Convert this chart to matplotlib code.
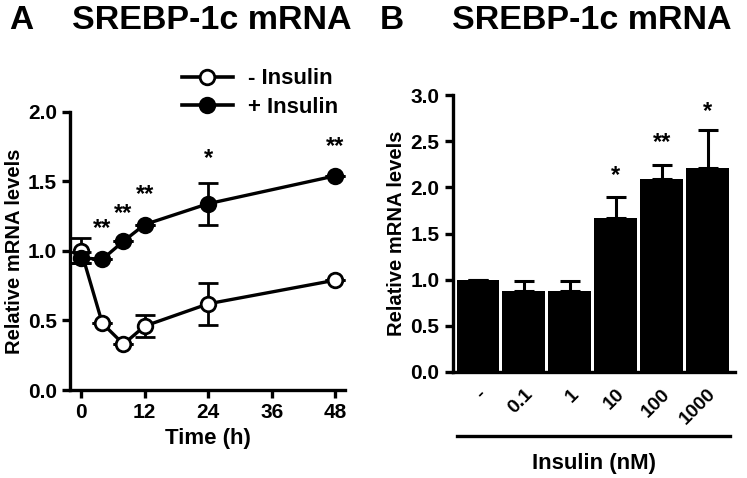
import numpy as np
import matplotlib.pyplot as plt
from matplotlib.lines import Line2D

plt.rcParams['font.family'] = ['Liberation Sans', 'DejaVu Sans']
plt.rcParams['font.weight'] = 'bold'

# panel A: time course
time_h = [0, 4, 8, 12, 24, 48]
minus_ins = [1.00, 0.48, 0.33, 0.46, 0.62, 0.79]
minus_err = [0.09, 0.0, 0.0, 0.08, 0.15, 0.0]
plus_ins = [0.95, 0.94, 1.07, 1.19, 1.34, 1.54]
plus_err = [0.04, 0.0, 0.0, 0.0, 0.15, 0.0]
stars_a = ['', '**', '**', '**', '*', '**']
stars_a_y = [0, 1.08, 1.19, 1.32, 1.58, 1.67]

# panel B: dose response
doses = ['-', '0.1', '1', '10', '100', '1000']
dose_vals = [1.0, 0.88, 0.88, 1.67, 2.09, 2.21]
dose_err = [0.0, 0.11, 0.11, 0.23, 0.15, 0.41]
stars_b = ['', '', '', '*', '**', '*']
stars_b_y = [0, 0, 0, 2.0, 2.36, 2.7]

fig = plt.figure(figsize=(7.47, 4.78), dpi=100)

def style(ax):
    for s in ['top', 'right']:
        ax.spines[s].set_visible(False)
    for s in ['left', 'bottom']:
        ax.spines[s].set_linewidth(2.4)
    ax.tick_params(width=2.4, length=6, labelsize=15)
    for lab in ax.get_xticklabels() + ax.get_yticklabels():
        lab.set_fontweight('bold')

# ---- A ----
ax1 = fig.add_axes([0.0937, 0.184, 0.368, 0.582])
ax1.errorbar(time_h, minus_ins, yerr=minus_err, fmt='-o', color='black',
             mfc='white', mec='black', mew=2, ms=10.5, lw=2.4,
             capsize=7, capthick=2, elinewidth=2, zorder=3)
ax1.errorbar(time_h, plus_ins, yerr=plus_err, fmt='-o', color='black',
             mfc='black', mec='black', mew=2, ms=10.5, lw=2.4,
             capsize=7, capthick=2, elinewidth=2, zorder=4)
for t, s, y in zip(time_h, stars_a, stars_a_y):
    if s:
        ax1.text(t, y, s, ha='center', va='bottom', fontsize=17, fontweight='bold')
ax1.set_xlim(-2.1, 49.8)
ax1.set_ylim(0, 2.0)
ax1.set_xticks([0, 12, 24, 36, 48])
ax1.set_yticks([0, 0.5, 1.0, 1.5, 2.0])
ax1.set_yticklabels(['0.0', '0.5', '1.0', '1.5', '2.0'])
ax1.set_xlabel('Time (h)', fontsize=16, fontweight='bold', labelpad=4)
ax1.set_ylabel('Relative mRNA levels', fontsize=14.5, fontweight='bold', labelpad=3)
style(ax1)
handles = [Line2D([], [], color='black', lw=2.6, marker='o', mfc='white', mec='black', mew=2, ms=10.5),
           Line2D([], [], color='black', lw=2.6, marker='o', mfc='black', mec='black', mew=2, ms=10.5)]
leg = ax1.legend(handles, ['- Insulin', '+ Insulin'], loc='upper right',
                 bbox_to_anchor=(0.468, 0.88), bbox_transform=fig.transFigure,
                 frameon=False, fontsize=16, handlelength=2.3, handletextpad=0.7,
                 labelspacing=0.35, borderpad=0)
for txt in leg.get_texts():
    txt.set_fontweight('bold')

fig.text(0.012, 0.958, 'A', fontsize=24, fontweight='bold', va='center')
fig.text(0.097, 0.958, 'SREBP-1c mRNA', fontsize=24.5, fontweight='bold', va='center')

# ---- B ----
ax2 = fig.add_axes([0.606, 0.222, 0.378, 0.579])
x = np.arange(len(doses))
ax2.bar(x, dose_vals, width=0.93, color='black', zorder=2)
ax2.errorbar(x, dose_vals, yerr=[np.zeros(len(x)), dose_err], fmt='none',
             ecolor='black', elinewidth=2.2, capsize=7, capthick=2.2, zorder=1)
for i, s, y in zip(x, stars_b, stars_b_y):
    if s:
        ax2.text(i, y, s, ha='center', va='bottom', fontsize=17, fontweight='bold')
ax2.set_xlim(-0.55, 5.6)
ax2.set_ylim(0, 3.0)
ax2.set_xticks(x)
ax2.set_xticklabels(doses, rotation=45, ha='right', rotation_mode='anchor')
ax2.set_yticks([0, 0.5, 1.0, 1.5, 2.0, 2.5, 3.0])
ax2.set_ylabel('Relative mRNA levels', fontsize=14.5, fontweight='bold', labelpad=3)
style(ax2)
ax2.tick_params(axis='x', length=0, pad=10, labelsize=14)

fig.add_artist(Line2D([457 / 747, 730 / 747], [1 - 436 / 478, 1 - 436 / 478],
                      color='black', lw=2.4, transform=fig.transFigure))
fig.text(594 / 747, 1 - 463 / 478, 'Insulin (nM)', fontsize=16, fontweight='bold',
         ha='center', va='center')

fig.text(0.508, 0.958, 'B', fontsize=24, fontweight='bold', va='center')
fig.text(0.605, 0.958, 'SREBP-1c mRNA', fontsize=24.5, fontweight='bold', va='center')

fig.savefig('out.png', dpi=100)
